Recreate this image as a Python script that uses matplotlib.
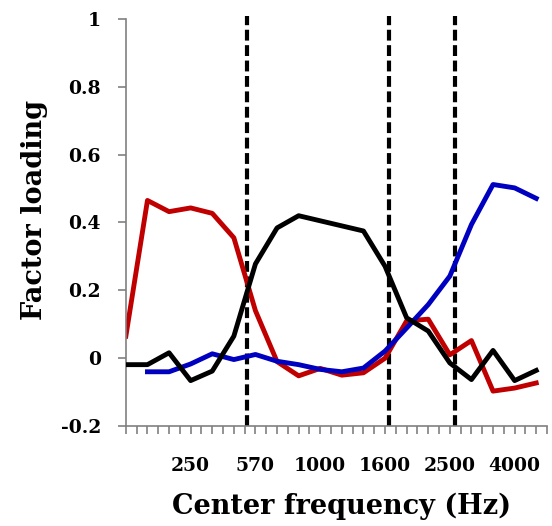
import matplotlib
matplotlib.use('Agg')
import matplotlib.pyplot as plt
from matplotlib.ticker import MultipleLocator

plt.rcParams['font.family'] = ['DejaVu Serif']
plt.rcParams['font.weight'] = 'bold'

# band index 0..19, labelled every third band
freq_labels = ['250', '570', '1000', '1600', '2500', '4000']
label_pos = [3, 6, 9, 12, 15, 18]
boundaries = [5.6, 12.2, 15.25]

red = [0.065, 0.465, 0.432, 0.443, 0.427, 0.355, 0.14, -0.01, -0.052, -0.03,
       -0.05, -0.043, 0.0, 0.11, 0.115, 0.01, 0.052, -0.097, -0.088, -0.073]
black = [-0.019, -0.019, 0.016, -0.066, -0.038, 0.065, 0.278, 0.384, 0.42, 0.405,
         0.39, 0.375, 0.271, 0.119, 0.08, -0.014, -0.063, 0.023, -0.066, -0.036]
blue_x = list(range(1, 20))
blue = [-0.04, -0.04, -0.017, 0.013, -0.004, 0.011, -0.009, -0.019, -0.033,
        -0.04, -0.029, 0.021, 0.089, 0.158, 0.242, 0.394, 0.512, 0.502, 0.471]

fig = plt.figure(figsize=(5.52, 5.26), dpi=100)
ax = fig.add_axes([0.228, 0.19, 0.763, 0.774])

lw = 3.5
for b in boundaries:
    ax.plot([b, b], [-0.2, 1.01], color='black', lw=3, ls=(0, (2.6, 1.1)),
            clip_on=False, zorder=1)
ax.plot(range(len(red)), red, color='#C00000', lw=lw, zorder=2)
ax.plot(blue_x, blue, color='#0000C0', lw=lw, zorder=3)
ax.plot(range(len(black)), black, color='black', lw=lw, zorder=4)

ax.set_xlim(0, 19.5)
ax.set_ylim(-0.2, 1)
ax.set_yticks([-0.2, 0, 0.2, 0.4, 0.6, 0.8, 1])
ax.set_yticklabels(['-0.2', '0', '0.2', '0.4', '0.6', '0.8', '1'])
ax.set_xticks(label_pos)
ax.set_xticklabels(freq_labels)
ax.xaxis.set_minor_locator(MultipleLocator(0.5))

for s in ['top', 'right']:
    ax.spines[s].set_visible(False)
for s in ['left', 'bottom']:
    ax.spines[s].set_color('#808080')
    ax.spines[s].set_linewidth(1.2)

ax.tick_params(axis='both', which='both', color='#808080', width=1.2,
               length=6, labelsize=13.5, pad=6)
ax.tick_params(axis='y', which='major', pad=12)
ax.tick_params(axis='x', which='major', pad=16)

ax.set_xlabel('Center frequency (Hz)', fontsize=19.5, fontweight='bold')
ax.set_ylabel('Factor loading', fontsize=19.5, fontweight='bold')
ax.xaxis.set_label_coords(0.513, -0.163)
ax.yaxis.set_label_coords(-0.185, 0.53)

fig.savefig('out.png', dpi=100)
